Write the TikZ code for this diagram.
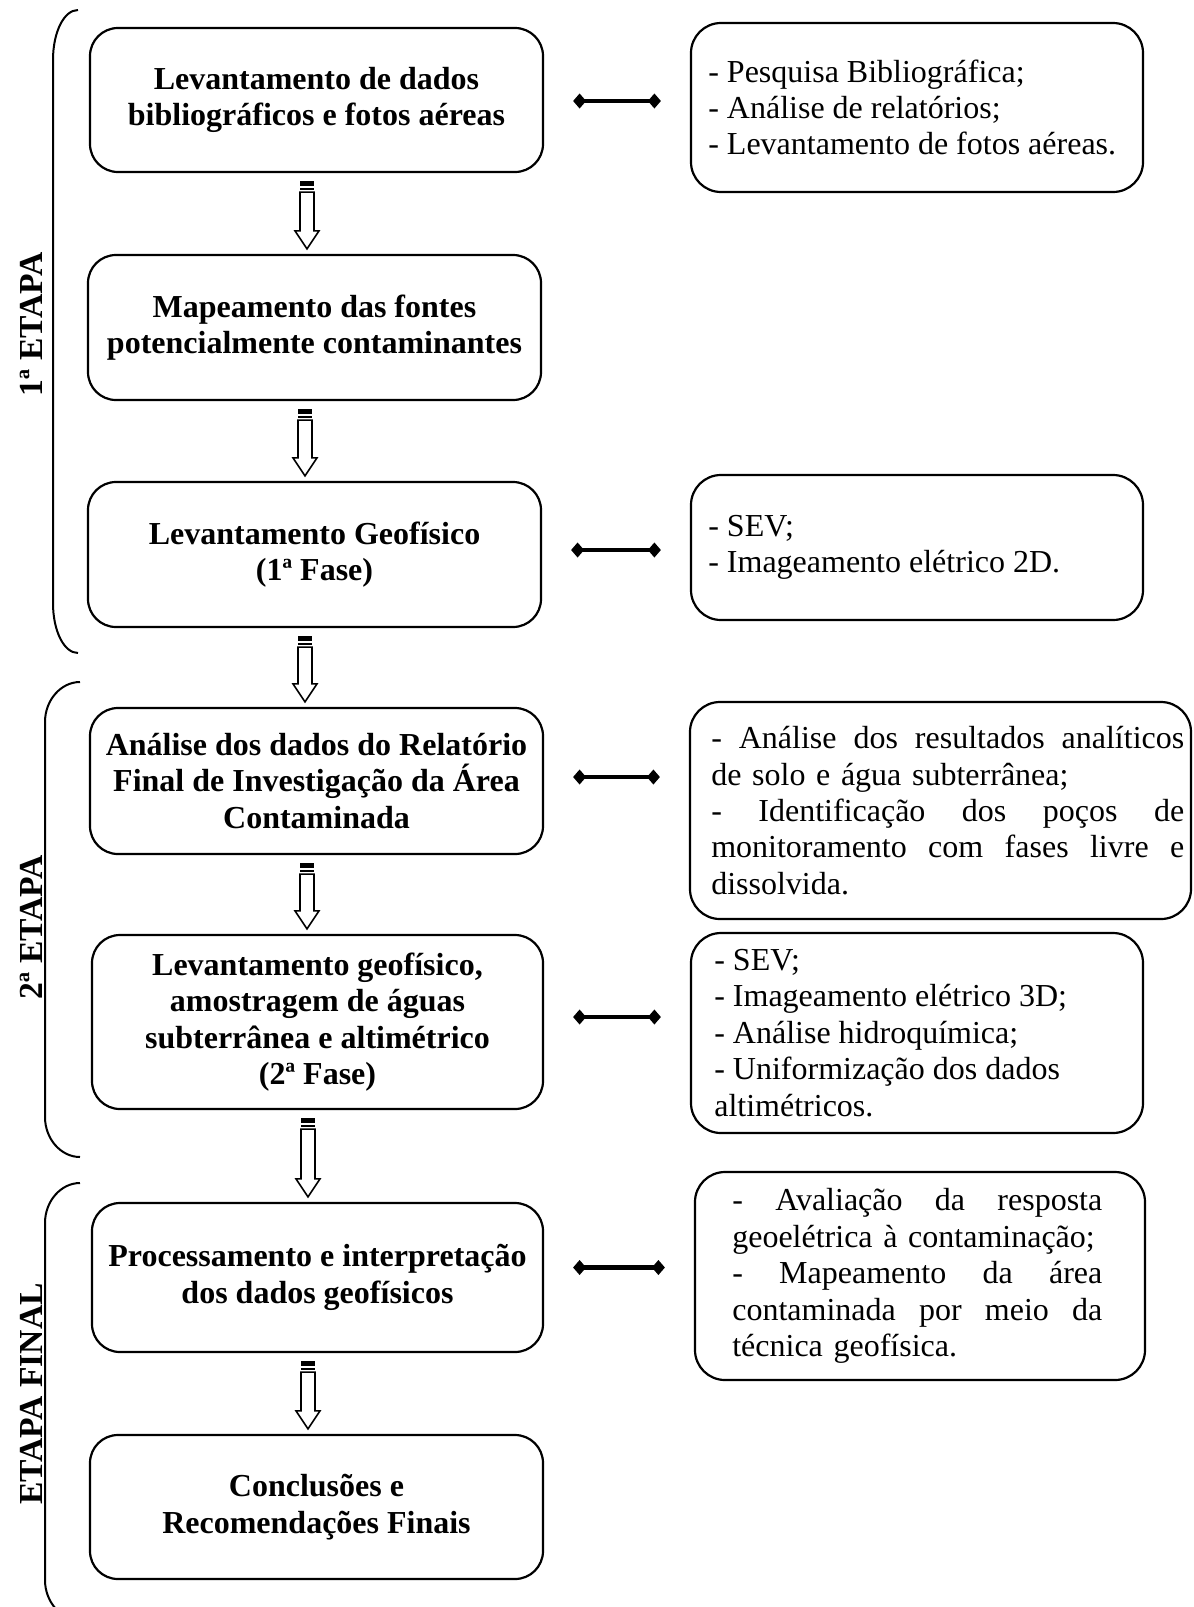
\documentclass[tikz,border=0pt]{standalone}
\usepackage{fontspec}
\setmainfont{Liberation Serif}
\usetikzlibrary{arrows.meta,calc}

\tikzset{
  stage/.style={draw, line width=1.1pt, rounded corners=14pt, align=center,
    font=\bfseries\fontsize{16pt}{18.2pt}\selectfont, inner sep=0pt},
  note/.style={draw, line width=1.1pt, rounded corners=15pt, inner sep=0pt},
  notetext/.style={anchor=west, align=left, inner sep=0pt,
    font=\fontsize{16pt}{18.2pt}\selectfont},
  link/.style={line width=2.2pt,
    {Diamond[length=6.5pt,width=7.5pt]}-{Diamond[length=6.5pt,width=7.5pt]}},
  bracket/.style={line width=1pt},
  phase/.style={rotate=90, inner sep=0pt,
    font=\bfseries\fontsize{16.8pt}{18.2pt}\selectfont},
  hollow/.style={line width=0.8pt, fill=white, line join=miter},
}

% block arrow with two stripes at its tail, running from one stage to the next
\newcommand\stripedarrow[2]{%
  \path let \p1=(#1.south), \p2=(#2.north) in
    coordinate (sa-top) at ({\x1-4.75pt},{\y1-4pt})
    coordinate (sa-tip) at ({\x1-4.75pt},{\y2+2.5pt});
  \fill ([xshift=-3.5pt]sa-top) rectangle ([xshift=3.5pt,yshift=-2.5pt]sa-top);
  \fill ([xshift=-3.5pt,yshift=-3.3pt]sa-top) rectangle ([xshift=3.5pt,yshift=-4.5pt]sa-top);
  \draw[hollow] ([xshift=-3.5pt,yshift=-5.5pt]sa-top)
    -- ([xshift=-3.5pt,yshift=9pt]sa-tip) -- ([xshift=-6pt,yshift=9pt]sa-tip)
    -- (sa-tip)
    -- ([xshift=6pt,yshift=9pt]sa-tip) -- ([xshift=3.5pt,yshift=9pt]sa-tip)
    -- ([xshift=3.5pt,yshift=-5.5pt]sa-top) -- cycle;
}

% diamond-ended link between a stage and its note, shifted vertically by #3
\newcommand\linkpair[3]{%
  \draw[link] ($(#1.east)+(14.5pt,#3)$) -- ($(#1.east -| #2.west)+(-14.5pt,#3)$);
}

% one fully justified line of width #1
\newcommand\jline[2]{\leavevmode{\spaceskip=0.25em plus 1fil\relax
  \xspaceskip=\spaceskip\hbox to #1{#2}}}

\newlength\jw
\newlength\jv

\begin{document}
\begin{tikzpicture}[x=0.5pt, y=-0.5pt]
\useasboundingbox (0,0) rectangle (1194,1607);
\clip (0,0) rectangle (1194,1607);

% stages
\node[stage, minimum width=226.5pt, minimum height=72pt] (b1) at (316.5,100)
  {Levantamento de dados\\bibliográficos e fotos aéreas};
\node[stage, minimum width=226.5pt, minimum height=72.5pt] (b2) at (314.5,327.5)
  {Mapeamento das fontes\\potencialmente contaminantes};
\node[stage, minimum width=226.5pt, minimum height=72.5pt] (b3) at (314.5,554.5)
  {Levantamento Geofísico\\(1ª Fase)};
\node[stage, minimum width=226.5pt, minimum height=73pt] (b4) at (316.5,781)
  {Análise dos dados do Relatório\\Final de Investigação da Área\\Contaminada};
\node[stage, minimum width=225.5pt, minimum height=87pt] (b5) at (317.5,1022)
  {Levantamento geofísico,\\amostragem de águas\\subterrânea e altimétrico\\(2ª Fase)};
\node[stage, minimum width=225.5pt, minimum height=74.5pt] (b6) at (317.5,1277.5)
  {Processamento e interpretação\\dos dados geofísicos};
\node[stage, minimum width=226.5pt, minimum height=72pt] (b7) at (316.5,1507)
  {Conclusões e\\Recomendações Finais};

% notes
\node[note, minimum width=226pt, minimum height=84.5pt] (r1) at (917,107.5) {};
\node[note, minimum width=226pt, minimum height=72.5pt] (r3) at (917,547.5) {};
\node[note, minimum width=250.5pt, minimum height=108.5pt] (r4) at (940.5,810.5) {};
\node[note, minimum width=226pt, minimum height=100pt] (r5) at (917,1033) {};
\node[note, minimum width=225pt, minimum height=104pt] (r6) at (920,1276) {};

\node[notetext] (t1) at ($(r1.west)+(9pt,0)$)
  {- Pesquisa Bibliográfica;\\- Análise de relatórios;\\- Levantamento de fotos aéreas.};
\node[notetext] (t3) at ($(r3.west)+(9pt,0)$)
  {- SEV;\\- Imageamento elétrico 2D.};
\setlength\jw{236.5pt}
\node[notetext, text width=\jw] (t4) at ($(r4.west)+(11pt,0)$)
  {\jline{\jw}{- Análise dos resultados analíticos}\\
   de solo e água subterrânea;\\
   \jline{\jw}{- Identificação dos poços de}\\
   \jline{\jw}{monitoramento com fases livre e}\\
   dissolvida.};
\node[notetext] (t5) at ($(r5.west)+(12pt,0)$)
  {- SEV;\\- Imageamento elétrico 3D;\\- Análise hidroquímica;\\- Uniformização dos dados\\altimétricos.};
\setlength\jv{185pt}
\node[notetext, text width=\jv] (t6) at ($(r6.west)+(19pt,0)$)
  {\jline{\jv}{- Avaliação da resposta}\\
   geoelétrica à contaminação;\\
   \jline{\jv}{- Mapeamento da área}\\
   \jline{\jv}{contaminada por meio da}\\
   técnica geofísica.};

% links between stages and notes
\linkpair{b1}{r1}{-0.5pt}
\linkpair{b3}{r3}{2.25pt}
\linkpair{b4}{r4}{2pt}
\linkpair{b5}{r5}{2.5pt}
\linkpair{b6}{r6}{5pt}

% flow arrows
\stripedarrow{b1}{b2}
\stripedarrow{b2}{b3}
\stripedarrow{b3}{b4}
\stripedarrow{b4}{b5}
\stripedarrow{b5}{b6}
\stripedarrow{b6}{b7}

% phase brackets
\draw[bracket] (78,10) .. controls (64,10) and (53,32) .. (53,60)
  -- (53,603) .. controls (53,631) and (64,653) .. (78,653);
\draw[bracket] (80,682) .. controls (61,682) and (45,700) .. (45,722)
  -- (45,1117) .. controls (45,1139) and (61,1157) .. (80,1157);
\draw[bracket] (80,1183) .. controls (61,1183) and (45,1201) .. (45,1223)
  -- (45,1580) .. controls (45,1602) and (61,1620) .. (80,1620);

% phase labels
\node[phase] (p1) at (31,324) {1ª ETAPA};
\node[phase] (p2) at (31,927) {2ª ETAPA};
\node[phase] (p3) at (31,1394) {ETAPA FINAL};
\end{tikzpicture}
\end{document}
